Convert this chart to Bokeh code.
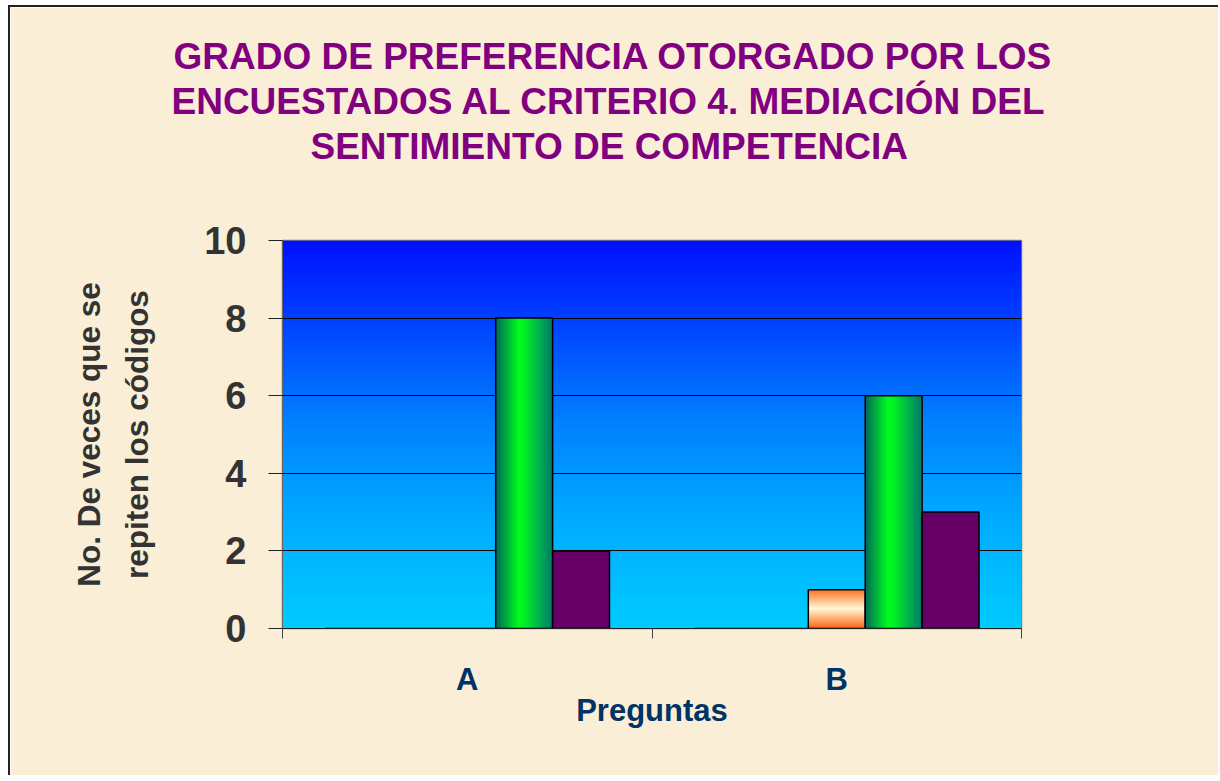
import numpy as np
from bokeh.plotting import figure
from bokeh.models import Range1d, FixedTicker, Title
from bokeh.embed import file_html
from bokeh.resources import INLINE

# ---------------- data ----------------
categories = ["A", "B"]
series_s1 = [0, 0]
series_s2 = [0, 0]
series_s3 = [0, 1]
series_s4 = [8, 6]
series_s5 = [2, 3]
y_ticks = [0, 2, 4, 6, 8, 10]
title_lines = ["GRADO DE PREFERENCIA OTORGADO POR LOS",
               "ENCUESTADOS AL CRITERIO 4. MEDIACIÓN DEL",
               "SENTIMIENTO DE COMPETENCIA"]
y_label = "No. De veces que se\nrepiten los códigos"
x_label = "Preguntas"

series = [series_s1, series_s2, series_s3, series_s4, series_s5]
styles = ["solid", "solid", "vgrad_orange", "hgrad_green", "solid"]
solid_colors = ["#3366cc", "#cc3366", "#ff9933", "#00cc44", "#660066"]

FONT = "Liberation Sans"
BAR_W = 0.154
FRAME_LEFT = 282


def rgba_image(rows):
    h, w, _ = rows.shape
    img = np.empty((h, w), dtype=np.uint32)
    view = img.view(dtype=np.uint8).reshape((h, w, 4))
    view[:, :, :3] = rows
    view[:, :, 3] = 255
    return img


def gradient(stops, n):
    pos = np.array([s[0] for s in stops])
    cols = np.array([s[1] for s in stops], dtype=float)
    t = np.linspace(0, 1, n)
    out = np.stack([np.interp(t, pos, cols[:, k]) for k in range(3)], axis=1)
    return out.astype(np.uint8)


p = figure(
    width=1210, height=770,
    x_range=Range1d(0, len(categories)), y_range=Range1d(0, 10),
    output_backend="svg", toolbar_location=None,
    min_border_left=272, min_border_right=199,
    min_border_top=233, min_border_bottom=149,
    border_fill_color="#FAEED6", background_fill_color="#00CCFF",
    outline_line_color="#808080", outline_line_width=1.5,
)
p.styles = {"margin-left": "8px", "margin-top": "5px",
            "border-left": "2px solid #222222", "border-top": "2px solid #222222"}

# title: one Title per line (p.title is outermost; added ones stack outward from the frame)
title_starts = [173, 171, 310]


def style_title(t, line, start):
    t.text = line
    t.align = "left"
    t.offset = start - FRAME_LEFT
    t.standoff = 2
    t.text_font = FONT
    t.text_font_style = "bold"
    t.text_font_size = "37px"
    t.text_color = "#800080"


style_title(p.title, title_lines[0], title_starts[0])
# spacer between frame and the last title line
p.add_layout(Title(text=" ", text_font_size="1px", standoff=70), "above")
for k in (2, 1):
    t = Title()
    style_title(t, title_lines[k], title_starts[k])
    p.add_layout(t, "above")

# plot-area vertical gradient (row 0 = bottom)
bg_stops = [(0.0, (0, 204, 255)), (0.28, (0, 172, 255)), (0.54, (0, 128, 255)),
            (0.8, (0, 64, 255)), (1.0, (0, 16, 255))]
bg = gradient(bg_stops, 256).reshape(256, 1, 3)
p.image_rgba(image=[rgba_image(bg)], x=0, y=0, dw=len(categories), dh=10, level="image")

green_stops = [(0.0, (0, 105, 90)), (0.40, (0, 255, 30)), (0.5, (0, 240, 40)), (1.0, (0, 118, 110))]
orange_stops = [(0.0, (255, 100, 20)), (0.5, (255, 250, 210)), (1.0, (255, 110, 35))]

for j, vals in enumerate(series):
    offs = (j - (len(series) - 1) / 2) * BAR_W
    xs = [i + 0.5 + offs for i in range(len(categories))]
    st = styles[j]
    if st == "solid":
        p.vbar(x=xs, top=vals, bottom=0, width=BAR_W, fill_color=solid_colors[j],
               line_color="black", line_width=1.5)
    else:
        for x, v in zip(xs, vals):
            if v <= 0:
                continue
            if st == "hgrad_green":
                g = gradient(green_stops, 128).reshape(1, 128, 3)
            else:
                g = gradient(orange_stops, 128).reshape(128, 1, 3)
            p.image_rgba(image=[rgba_image(g)], x=x - BAR_W / 2, y=0, dw=BAR_W, dh=v)
        p.vbar(x=xs, top=vals, bottom=0, width=BAR_W, fill_alpha=0,
               line_color="black", line_width=1.5)

# grid
p.xgrid.grid_line_color = None
p.ygrid.ticker = FixedTicker(ticks=y_ticks)
p.ygrid.grid_line_color = "black"
p.ygrid.grid_line_width = 1

# y axis
p.yaxis.ticker = FixedTicker(ticks=y_ticks)
p.yaxis.major_label_text_font = FONT
p.yaxis.major_label_text_font_style = "bold"
p.yaxis.major_label_text_font_size = "38px"
p.yaxis.major_label_text_color = "#333333"
p.yaxis.major_tick_out = 14
p.yaxis.major_tick_in = 0
p.yaxis.major_tick_line_color = "#222222"
p.yaxis.minor_tick_line_color = None
p.yaxis.major_label_standoff = 22
p.yaxis.axis_line_color = "#666666"
p.yaxis.axis_label = y_label
p.yaxis.axis_label_text_font = FONT
p.yaxis.axis_label_text_font_style = "bold"
p.yaxis.axis_label_text_font_size = "31.5px"
p.yaxis.axis_label_text_color = "#333333"
p.yaxis.axis_label_text_line_height = 1.35
p.yaxis.axis_label_standoff = 46

# x axis
p.xaxis.ticker = FixedTicker(ticks=[i + 0.5 for i in range(len(categories))],
                             minor_ticks=list(range(len(categories) + 1)))
p.xaxis.major_label_overrides = {i + 0.5: c for i, c in enumerate(categories)}
p.xaxis.major_tick_line_color = None
p.xaxis.major_tick_out = 0
p.xaxis.major_tick_in = 0
p.xaxis.minor_tick_out = 10
p.xaxis.minor_tick_in = 0
p.xaxis.minor_tick_line_color = "#444444"
p.xaxis.major_label_text_font = FONT
p.xaxis.major_label_text_font_style = "bold"
p.xaxis.major_label_text_font_size = "31px"
p.xaxis.major_label_text_color = "#003366"
p.xaxis.major_label_standoff = 23
p.xaxis.axis_line_color = "#222222"
p.xaxis.axis_label = x_label
p.xaxis.axis_label_text_font = FONT
p.xaxis.axis_label_text_font_style = "bold"
p.xaxis.axis_label_text_font_size = "31px"
p.xaxis.axis_label_text_color = "#003366"
p.xaxis.axis_label_standoff = -7

open("out.html", "w").write(file_html(p, INLINE))
